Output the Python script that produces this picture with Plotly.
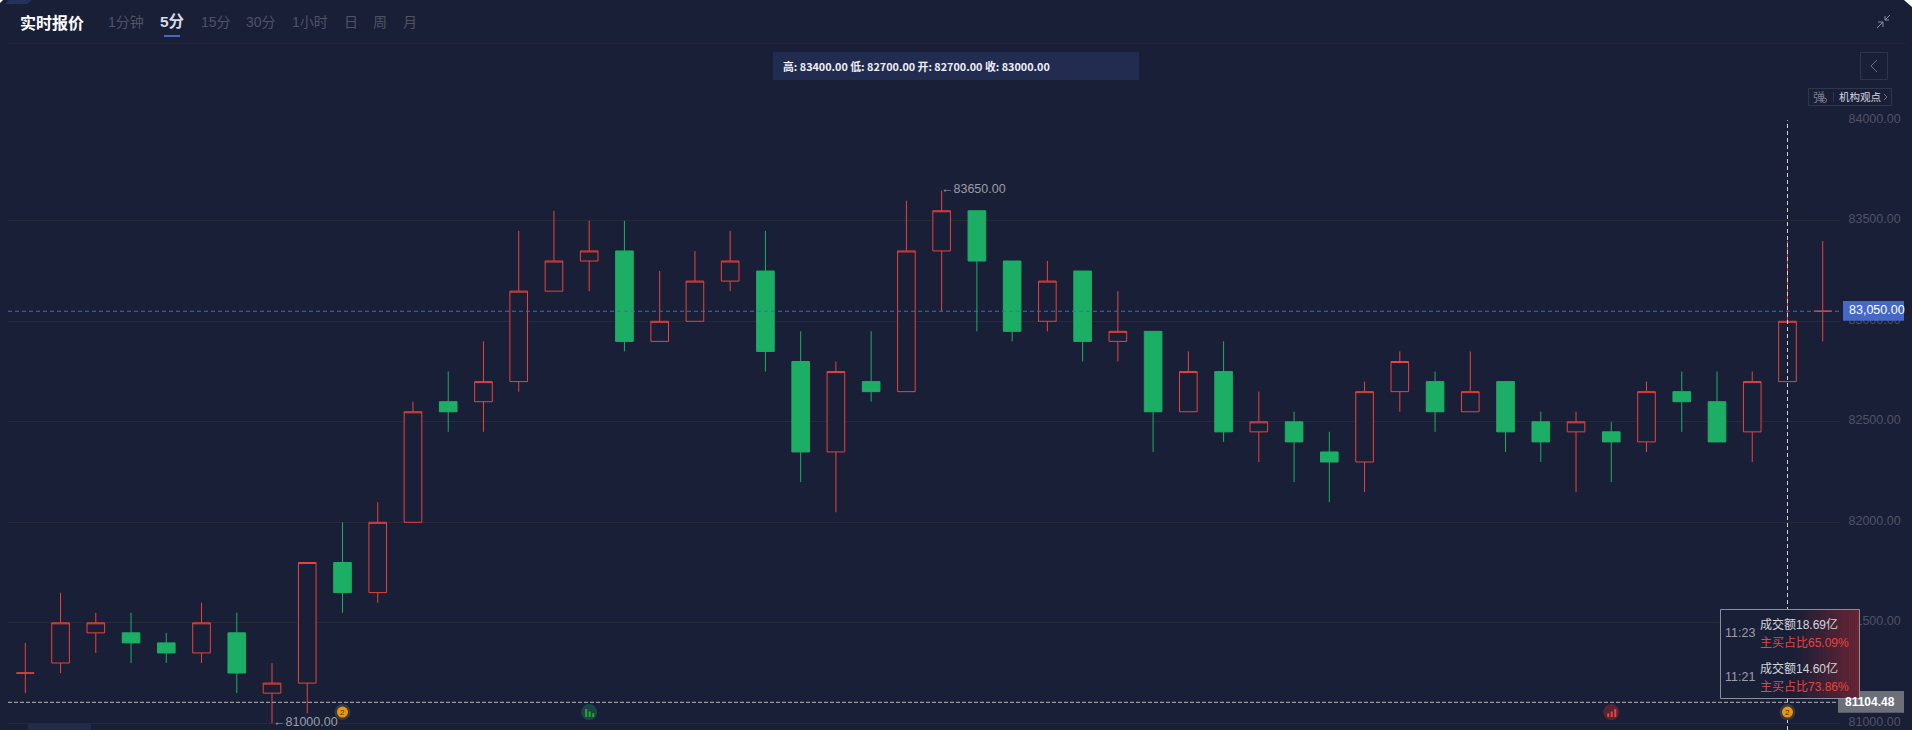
import plotly.graph_objects as go

W, H = 1912, 730
BG = "#1a1f38"
GRID = "#252939"
RED = "#e8433c"
GREEN = "#1cae64"
BLUE = "#4468c4"
MUTED = "#4f5363"
CJK = "Noto Sans CJK SC, Liberation Sans, sans-serif"
LAT = "Liberation Sans, Noto Sans CJK SC, sans-serif"

idx = list(range(52))
opens = [81250,81300,81450,81450,81400,81350,81450,81150,81200,81800,81650,82000,82600,82600,82700,83150,83300,83350,
         82900,83000,83200,83250,82800,82350,82700,82650,83350,83550,83300,83000,83250,82900,82950,82550,82750,82450,
         82500,82350,82300,82650,82700,82550,82700,82500,82450,82450,82400,82650,82600,82450,82700,83050]
highs = [81400,81650,81550,81550,81450,81600,81550,81300,81800,82000,82100,82600,82750,82900,83450,83550,83500,83500,
         83250,83350,83450,83450,82950,82800,82950,83600,83650,83550,83300,83300,83250,83150,82950,82850,82900,82650,
         82550,82450,82700,82850,82750,82850,82700,82550,82550,82500,82700,82750,82750,82750,83400,83400]
lows = [81150,81250,81350,81300,81300,81300,81150,81000,81050,81550,81600,82000,82450,82450,82650,83150,83150,82850,
        82900,83000,83150,82750,82200,82050,82600,82650,83050,82950,82900,82950,82800,82800,82350,82550,82400,82300,
        82200,82100,82150,82550,82450,82550,82350,82300,82150,82200,82350,82450,82400,82300,82700,82900]
closes = [81250,81500,81500,81400,81350,81500,81250,81200,81800,81650,82000,82550,82550,82700,83150,83300,83350,82900,
          83000,83200,83300,82850,82350,82750,82650,83350,83550,83300,82950,83200,82900,82950,82550,82750,82450,82500,
          82400,82300,82650,82800,82550,82650,82450,82400,82500,82400,82650,82600,82400,82700,83000,83050]
y_ticks = [81000, 81500, 82000, 82500, 83000, 83500, 84000]
last_price = 83050
mark_price = 81104.48
tabs = [("1分钟", 108, False), ("5分", 160, True), ("15分", 201, False), ("30分", 246, False),
        ("1小时", 292, False), ("日", 344, False), ("周", 373, False), ("月", 403, False)]
ohlc_text = "高: 83400.00 低: 82700.00 开: 82700.00 收: 83000.00"
coin_idx = [9, 50]
green_icon_idx = [16]
red_icon_idx = [45]
marker_price = 81056
cross_idx = 50


def X(px):
    return px / W


def Y(py):
    return 1 - py / H


shapes, ann = [], []


def rect(x0, y0, x1, y1, fill=None, line=None, lw=1):
    shapes.append(dict(type="rect", xref="paper", yref="paper", x0=X(x0), x1=X(x1), y0=Y(y0), y1=Y(y1),
                       fillcolor=fill or "rgba(0,0,0,0)",
                       line=dict(color=line or "rgba(0,0,0,0)", width=lw if line else 0), layer="above"))


def poly(points, color, lw=1, fill=None, close=False):
    d = "M" + " L".join(f"{X(a):.5f},{Y(b):.5f}" for a, b in points) + (" Z" if close else "")
    shapes.append(dict(type="path", xref="paper", yref="paper", path=d,
                       line=dict(color=color, width=lw), fillcolor=fill or "rgba(0,0,0,0)", layer="above"))


def text(px, py, s, size=12, color="#fff", anchor="left", family=CJK):
    ann.append(dict(xref="paper", yref="paper", x=X(px), y=Y(py), text=s, showarrow=False, xanchor=anchor,
                    yanchor="middle", font=dict(size=size, color=color, family=family), borderpad=0, borderwidth=0))


def pixel_shape(kind, xv, yv, x0, x1, y0, y1, fill):
    shapes.append(dict(type=kind, xref="x", yref="y", xsizemode="pixel", ysizemode="pixel", xanchor=xv, yanchor=yv,
                       x0=x0, x1=x1, y0=y0, y1=y1, fillcolor=fill, line=dict(width=0), layer="above"))


# header
text(20, 22, "<b>实时报价</b>", 16, "#ffffff")
for lab, px, active in tabs:
    text(px, 22, f"<b>{lab}</b>" if active else lab, 15.5 if active else 14, "#d8dbe6" if active else MUTED, family=LAT)
rect(164, 35, 180, 37, fill=BLUE)
poly([(8, 43.3), (1905, 43.3)], "#252939")

# corners
poly([(0, 0), (3, 0), (0, 3)], "#ffffff", 0, "#ffffff", True)
poly([(9, 0), (32, 0), (27, 4), (5, 4)], "#27325c", 0, "#27325c", True)
poly([(1904, 0), (1912, 0), (1912, 7)], "#ffffff", 0, "#ffffff", True)

# fullscreen-exit icon
poly([(1877, 28), (1883, 22)], "#8f93a0", 1)
poly([(1878, 22), (1883, 22), (1883, 27)], "#8f93a0", 1)
poly([(1890, 15), (1885, 20)], "#8f93a0", 1)
poly([(1885, 16), (1885, 20), (1889, 20)], "#8f93a0", 1)

# OHLC chip
rect(773, 52, 1139, 80, fill="#222c50")
text(783, 66.5, f"<b>{ohlc_text}</b>", 10.8, "#eef0f8")

# collapse button
rect(1860.5, 52.5, 1887.5, 79.5, line="#30354a")
poly([(1877, 60), (1871, 66), (1877, 72)], "#6c7080", 1)

# view chip
rect(1808.5, 88.5, 1891.5, 105.5, line="#30354a")
text(1813, 97, "弹", 12, "#7a7e8c")
shapes.append(dict(type="circle", xref="paper", yref="paper", x0=X(1822), x1=X(1826.5), y0=Y(102.5), y1=Y(98),
                   line=dict(color="#7a7e8c", width=1), fillcolor=BG, layer="above"))
poly([(1833.5, 92), (1833.5, 102)], "#30354a", 1)
text(1839, 97, "机构观点", 10.5, "#d5d8e2")
poly([(1884, 94), (1887, 97), (1884, 100)], "#6c7080", 1)

# reference lines and crosshair
shapes.append(dict(type="line", xref="x domain", yref="y", x0=0, x1=1, y0=last_price, y1=last_price,
                   line=dict(color=BLUE, width=1, dash="4px,3px"), layer="above"))
shapes.append(dict(type="line", xref="x domain", yref="y", x0=0, x1=1, y0=mark_price, y1=mark_price,
                   line=dict(color="#b4b4b8", width=1, dash="4px,2px"), layer="above"))
shapes.append(dict(type="line", xref="x", yref="y domain", x0=cross_idx, x1=cross_idx, y0=0, y1=1,
                   line=dict(color="#d5d5d8", width=1, dash="4px,3px"), layer="above"))

# event markers on the price axis
for i in coin_idx:
    pixel_shape("circle", i, marker_price, -8, 8, -8, 8, "#39393f")
    pixel_shape("circle", i, marker_price, -5.5, 5.5, -5.5, 5.5, "#e8980e")
    ann.append(dict(x=i, y=marker_price, xref="x", yref="y", text="2", showarrow=False,
                    font=dict(size=8, color="#4a3206", family=LAT)))
for i in green_icon_idx:
    pixel_shape("circle", i, marker_price, -8, 8, -8, 8, "#1b4648")
    for a, b, top in [(-4, -2, 3), (-0.5, 1.5, 0.5), (3, 5, -1.3)]:
        pixel_shape("rect", i, marker_price, a, b, -5, top, "#2aa52a")
for i in red_icon_idx:
    pixel_shape("circle", i, marker_price, -8, 8, -8, 8, "#572532")
    for a, b, top in [(-4, -2, -1.3), (-0.5, 1.5, 0.5), (3, 5, 3)]:
        pixel_shape("rect", i, marker_price, a, b, -5, top, "#e8433c")

# extreme labels
ann.append(dict(x=7, y=81000, xref="x", yref="y", text="←81000.00", showarrow=False, xanchor="left", xshift=-1, yshift=1,
                font=dict(size=12.5, color="#9a9da8", family=LAT)))
ann.append(dict(x=26, y=83650, xref="x", yref="y", text="←83650.00", showarrow=False, xanchor="left", xshift=-3, yshift=2,
                font=dict(size=12.5, color="#9a9da8", family=LAT)))

# price tags
rect(1843, 301, 1904, 320.7, fill=BLUE)
text(1849, 309.5, "83,050.00", 12.5, "#ffffff", family=LAT)
rect(1838, 691, 1904, 712.7, fill="#6d6f79")
text(1845, 702, "<b>81104.48</b>", 12, "#ffffff", family=LAT)

# tooltip box with a red fade towards its right edge
rect(1720.5, 609.5, 1859.5, 698.5, fill="#1a1f38")
n = 30
start, end = 1795, 1859
for k in range(n):
    a = (k + 1) / n * 0.48
    x0 = start + (end - start) * k / n
    x1 = start + (end - start) * (k + 1) / n
    rect(x0, 610, x1, 698, fill=f"rgba(190,45,50,{a:.3f})")
poly([(1720.5, 609.5), (1859.5, 609.5), (1859.5, 698.5), (1720.5, 698.5)], "#8d909c", 1, close=True)
text(1725, 633, "11:23", 12.5, "#9a9da8", family=LAT)
text(1760, 624, "成交额18.69亿", 12, "#d4d5da", family=LAT)
text(1760, 642, "主买占比65.09%", 12, RED, family=LAT)
text(1725, 677, "11:21", 12.5, "#9a9da8", family=LAT)
text(1760, 668, "成交额14.60亿", 12, "#d4d5da", family=LAT)
text(1760, 686, "主买占比73.86%", 12, RED, family=LAT)

# bottom scrollbar hint
rect(28, 723.5, 91, 730, fill="#232a4c")

fig = go.Figure(go.Candlestick(
    x=idx, open=opens, high=highs, low=lows, close=closes, whiskerwidth=0, hoverinfo="skip", showlegend=False,
    increasing=dict(line=dict(color=RED, width=1), fillcolor=BG),
    decreasing=dict(line=dict(color=GREEN, width=1), fillcolor=GREEN),
))

px_per_unit = 603.0 / 3000
fig.update_layout(
    width=W, height=H, margin=dict(l=0, r=0, t=0, b=0, pad=0, autoexpand=False), autosize=False, boxgap=0.5, boxgroupgap=0,
    paper_bgcolor=BG, plot_bgcolor=BG, showlegend=False,
    shapes=shapes, annotations=ann, hovermode=False,
    xaxis=dict(domain=[X(8), X(1840)], range=[-0.491, 51.49], visible=False, rangeslider=dict(visible=False), fixedrange=True),
    yaxis=dict(domain=[0, Y(120.3)], range=[81000 - 6.7 / px_per_unit, 84000], side="right",
               tickvals=y_ticks, tickformat=".2f", showgrid=True, gridcolor=GRID, gridwidth=1,
               zeroline=False, showline=False, ticks="outside", ticklen=5, tickcolor="rgba(0,0,0,0)", ticklabelshift=-2,
               tickfont=dict(size=12.5, color=MUTED, family=LAT), fixedrange=True),
)

fig.write_html("out.html", config=dict(displayModeBar=False),
               post_script="document.body.style.margin='0';document.body.style.overflow='hidden';document.body.style.background='#1a1f38';")
